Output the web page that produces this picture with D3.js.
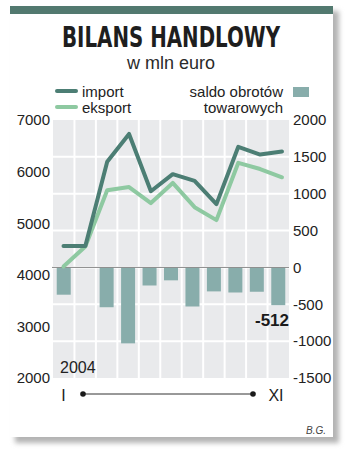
<!DOCTYPE html>
<html>
<head>
<meta charset="utf-8">
<script src="https://cdn.jsdelivr.net/npm/d3@7"></script>
<style>
  html, body { margin: 0; padding: 0; background: #ffffff; }
  svg { display: block; font-family: "Liberation Sans", Arimo, "Helvetica Neue", Arial, sans-serif; }
</style>
</head>
<body>
<svg id="chart" width="350" height="454"></svg>
<script>
// Monthly trade balance, 2004, million euro
const months = ["I", "II", "III", "IV", "V", "VI", "VII", "VIII", "IX", "X", "XI"];
const importValues = [4560, 4560, 6190, 6730, 5620, 5950, 5820, 5370, 6480, 6330, 6390];
const exportValues = [4160, 4550, 5640, 5700, 5390, 5780, 5310, 5060, 6170, 6050, 5890];
const saldoValues  = [-370, 0, -540, -1030, -245, -175, -530, -325, -340, -330, -512];
const leftTicks  = [2000, 3000, 4000, 5000, 6000, 7000];
const rightTicks = [-1500, -1000, -500, 0, 500, 1000, 1500, 2000];

const colImport = "#4c7e74";
const colExport = "#8ec9a1";
const colSaldo  = "#88adab";
const colBand   = "#52796f";

const svg = d3.select("#chart");

// card shadow + card
const defs = svg.append("defs");
const f = defs.append("filter").attr("id", "sh").attr("x", "-10%").attr("y", "-10%").attr("width", "130%").attr("height", "130%");
f.append("feGaussianBlur").attr("stdDeviation", 2.5);
svg.append("rect").attr("x", 15).attr("y", 11).attr("width", 324).attr("height", 432)
  .attr("fill", "#b4b4b4").attr("filter", "url(#sh)");
svg.append("rect").attr("x", 10).attr("y", 5).attr("width", 323).attr("height", 432).attr("fill", "#fff");
svg.append("rect").attr("x", 10).attr("y", 6).attr("width", 323).attr("height", 8).attr("fill", colBand);

// title
svg.append("text").attr("x", 171).attr("y", 47).attr("text-anchor", "middle")
  .attr("font-family", "'Liberation Sans Narrow', 'DejaVu Sans Condensed', 'Liberation Sans', sans-serif")
  .attr("font-weight", "bold").attr("font-size", 28).attr("fill", "#1e1e1e")
  .attr("textLength", 218).attr("lengthAdjust", "spacingAndGlyphs")
  .text("BILANS HANDLOWY");
svg.append("text").attr("x", 171).attr("y", 69).attr("text-anchor", "middle")
  .attr("font-size", 18).attr("fill", "#2a2a2a").text("w mln euro");

// scales
const plot = { left: 53, right: 289, top: 120, bottom: 378 };
const xBand = d3.scaleBand().domain(months).range([plot.left, plot.right]);
const xLine = d3.scalePoint().domain(months).range([63.5, 282]);
const yLeft = d3.scaleLinear().domain([2000, 7000]).range([plot.bottom, plot.top]);
const yRight = d3.scaleLinear().domain([-1500, 2000]).range([plot.bottom, plot.top]);

// plot background and grid
svg.append("rect").attr("x", plot.left).attr("y", plot.top)
  .attr("width", plot.right - plot.left).attr("height", plot.bottom - plot.top).attr("fill", "#e9eaec");
const grid = svg.append("g").attr("stroke", "#fff").attr("stroke-width", 2);
grid.selectAll("line.h").data(rightTicks.slice(1, -1)).join("line")
  .attr("x1", plot.left).attr("x2", plot.right)
  .attr("y1", d => yRight(d)).attr("y2", d => yRight(d));
grid.selectAll("line.v").data(months.slice(1)).join("line")
  .attr("x1", d => xBand(d)).attr("x2", d => xBand(d))
  .attr("y1", plot.top).attr("y2", plot.bottom);

// saldo bars
const barW = 14;
svg.append("g").selectAll("rect").data(saldoValues).join("rect")
  .attr("x", (d, i) => xBand(months[i]) + xBand.bandwidth() / 2 - barW / 2)
  .attr("y", d => yRight(Math.max(0, d)))
  .attr("width", barW)
  .attr("height", d => Math.abs(yRight(d) - yRight(0)))
  .attr("fill", colSaldo);

// zero line
svg.append("line").attr("x1", plot.left - 1).attr("x2", plot.right)
  .attr("y1", yRight(0)).attr("y2", yRight(0)).attr("stroke", "#8a8a8a").attr("stroke-width", 1);

// lines
const line = d3.line().x((d, i) => xLine(months[i])).y(d => yLeft(d));
svg.append("path").datum(exportValues).attr("d", line).attr("fill", "none")
  .attr("stroke", colExport).attr("stroke-width", 4).attr("stroke-linecap", "round").attr("stroke-linejoin", "round");
svg.append("path").datum(importValues).attr("d", line).attr("fill", "none")
  .attr("stroke", colImport).attr("stroke-width", 4).attr("stroke-linecap", "round").attr("stroke-linejoin", "round");

// axes (labels only)
const leftAxis = d3.axisLeft(yLeft).tickValues(leftTicks).tickSize(0).tickPadding(3).tickFormat(d3.format("d"));
const gl = svg.append("g").attr("transform", `translate(${plot.left},0)`).call(leftAxis);
gl.select(".domain").remove();
gl.selectAll("text").attr("font-size", 15).attr("fill", "#222").attr("font-family", null);

const rightAxis = d3.axisRight(yRight).tickValues(rightTicks).tickSize(0).tickPadding(4).tickFormat(d => String(d));
const gr = svg.append("g").attr("transform", `translate(${plot.right},0)`).call(rightAxis);
gr.select(".domain").remove();
gr.selectAll("text").attr("font-size", 15).attr("fill", "#222").attr("font-family", null);

// value label for last bar
const last = saldoValues.length - 1;
svg.append("text").attr("x", plot.right).attr("y", yRight(saldoValues[last]) + 21)
  .attr("text-anchor", "end").attr("font-weight", "bold").attr("font-size", 17).attr("fill", "#1a1a1a")
  .text(saldoValues[last]);

// year and time span
svg.append("text").attr("x", 60).attr("y", 373).attr("font-size", 16).attr("fill", "#222").text("2004");
svg.append("text").attr("x", xLine(months[0])).attr("y", 401).attr("text-anchor", "middle")
  .attr("font-size", 16).attr("fill", "#222").text(months[0]);
svg.append("text").attr("x", 276).attr("y", 401).attr("text-anchor", "middle")
  .attr("font-size", 16).attr("fill", "#222").text(months[last]);
svg.append("line").attr("x1", 83).attr("x2", 253).attr("y1", 394).attr("y2", 394)
  .attr("stroke", "#333").attr("stroke-width", 1);
svg.selectAll("circle.end").data([83, 253]).join("circle")
  .attr("cx", d => d).attr("cy", 394).attr("r", 2.8).attr("fill", "#1a1a1a");

// legend
const lg = svg.append("g");
lg.append("line").attr("x1", 57).attr("x2", 76).attr("y1", 91).attr("y2", 91)
  .attr("stroke", colImport).attr("stroke-width", 4).attr("stroke-linecap", "round");
lg.append("line").attr("x1", 57).attr("x2", 76).attr("y1", 107).attr("y2", 107)
  .attr("stroke", colExport).attr("stroke-width", 4).attr("stroke-linecap", "round");
lg.append("text").attr("x", 82).attr("y", 97).attr("font-size", 15).attr("fill", "#222").text("import");
lg.append("text").attr("x", 82).attr("y", 113).attr("font-size", 15).attr("fill", "#222").text("eksport");
lg.append("text").attr("x", 283).attr("y", 97).attr("text-anchor", "end").attr("font-size", 15).attr("fill", "#222").text("saldo obrotów");
lg.append("text").attr("x", 283).attr("y", 113).attr("text-anchor", "end").attr("font-size", 15).attr("fill", "#222").text("towarowych");
lg.append("rect").attr("x", 293).attr("y", 87).attr("width", 16).attr("height", 10).attr("fill", colSaldo);

// credit
svg.append("text").attr("x", 326).attr("y", 434).attr("text-anchor", "end")
  .attr("font-style", "italic").attr("font-size", 10).attr("fill", "#444").text("B.G.");
</script>
</body>
</html>
